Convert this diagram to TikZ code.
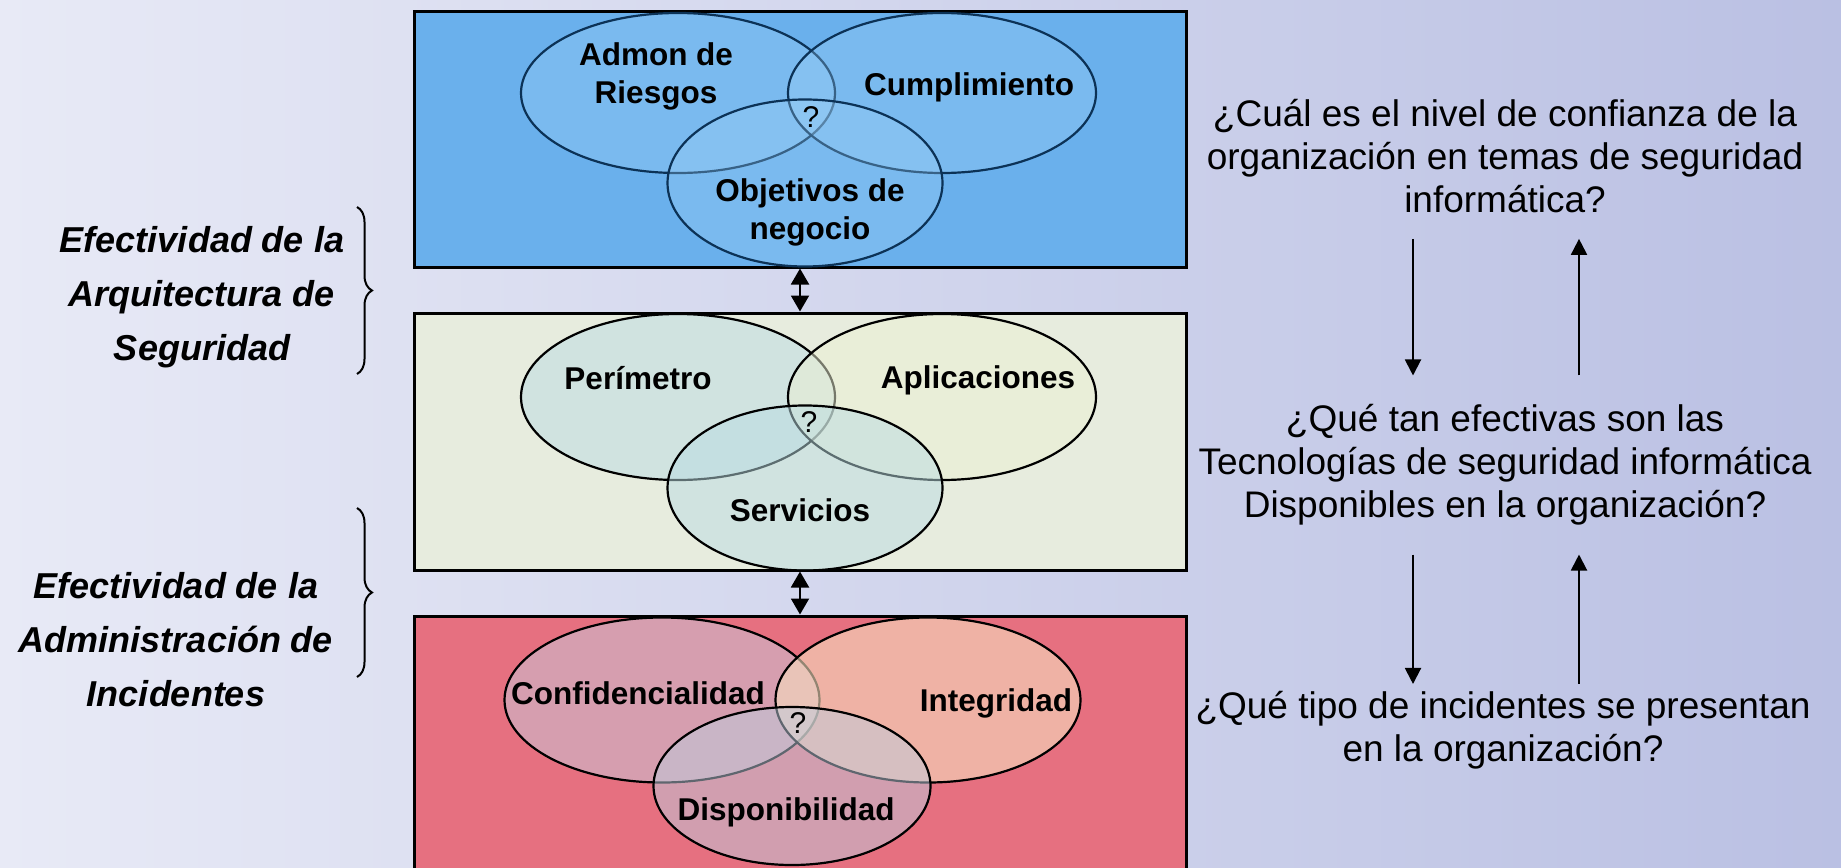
\documentclass[tikz,border=0pt]{standalone}
\usepackage{fontspec}
\setmainfont{Liberation Sans}
\usetikzlibrary{arrows.meta,shapes.geometric,decorations.pathreplacing}

\definecolor{bgleft}{RGB}{232,234,246}
\definecolor{bgright}{RGB}{186,192,227}
\definecolor{topblue}{RGB}{106,176,236}
\definecolor{topell}{RGB}{160,210,246}
\definecolor{topline}{RGB}{12,50,86}
\definecolor{midgreen}{RGB}{231,236,222}
\definecolor{midell}{RGB}{186,220,226}
\definecolor{aplicell}{RGB}{236,240,212}
\definecolor{botred}{RGB}{230,112,128}
\definecolor{confell}{RGB}{200,205,222}
\definecolor{integell}{RGB}{246,222,190}
\definecolor{dispell}{RGB}{190,205,222}

\begin{document}
\begin{tikzpicture}[x=0.5pt,y=-0.5pt,
    box/.style={draw=black, line width=1.5pt, minimum width=386pt, inner sep=0pt},
    venn/.style={ellipse, draw=black, line width=1.1pt, inner sep=0pt},
    lbl/.style={font=\fontsize{15.75}{19}\selectfont\bfseries, align=center},
    qmark/.style={font=\fontsize{15}{18}\selectfont},
    quest/.style={font=\fontsize{18.5}{21.5}\selectfont, align=center},
    side/.style={font=\fontsize{18}{27}\selectfont\bfseries\itshape, align=center},
    link/.style={line width=1pt, {Triangle[width=9pt,length=8pt]}-{Triangle[width=9pt,length=8pt]}},
    flow/.style={line width=1pt, -{Triangle[width=8pt,length=8pt]}},
    curly/.style={decorate, decoration={brace, amplitude=7.5pt}, line width=1pt}]
    \clip (0,0) rectangle (1841,867);
    \shade[left color=bgleft, right color=bgright] (0,0) rectangle (1841,867);

    % three layers
    \node[box, fill=topblue, minimum height=128pt] (top) at (800,139) {};
    \node[box, fill=midgreen, minimum height=128.5pt] (mid) at (800,441.5) {};
    \node[box, fill=botred, minimum height=132pt] (bot) at (800,748) {};

    % business layer
    \node[venn, draw=topline, fill=topell, fill opacity=0.3, minimum width=157pt, minimum height=80pt] (riesgos) at (678,93) {};
    \node[venn, draw=topline, fill=topell, fill opacity=0.3, minimum width=154pt, minimum height=80pt] (cumpl) at (942,93) {};
    \node[venn, draw=topline, fill=topell, fill opacity=0.3, minimum width=137.5pt, minimum height=83.5pt] (negocio) at (805,183) {};
    \node[lbl] (riesgostxt) at (656,76) {Admon de\\Riesgos};
    \node[lbl] (cumpltxt) at (969,87) {Cumplimiento};
    \node[lbl] (negociotxt) at (810,212) {Objetivos de\\negocio};
    \node[qmark] (q-top) at (811,117) {?};

    % technology layer
    \node[venn, fill=midell, fill opacity=0.5, minimum width=157pt, minimum height=83pt] (perim) at (678,397) {};
    \node[venn, fill=aplicell, fill opacity=0.5, minimum width=154pt, minimum height=83pt] (aplic) at (942,397) {};
    \node[venn, fill=midell, fill opacity=0.5, minimum width=137.5pt, minimum height=82.5pt] (serv) at (805,488) {};
    \node[lbl] (perimtxt) at (638,378) {Perímetro};
    \node[lbl] (aplictxt) at (978,380) {Aplicaciones};
    \node[lbl] (servtxt) at (800,510) {Servicios};
    \node[qmark] (q-mid) at (809,422) {?};

    % incident layer
    \node[venn, fill=confell, fill opacity=0.5, minimum width=157.5pt, minimum height=82.5pt] (conf) at (662,700) {};
    \node[venn, fill=integell, fill opacity=0.6, minimum width=152.5pt, minimum height=82.5pt] (integ) at (928,700) {};
    \node[venn, fill=dispell, fill opacity=0.5, minimum width=138.5pt, minimum height=79pt] (disp) at (792,786) {};
    \node[lbl] (conftxt) at (638,693) {Confidencialidad};
    \node[lbl] (integtxt) at (996,703) {Integridad};
    \node[lbl] (disptxt) at (786,812) {Disponibilidad};
    \node[qmark] (q-bot) at (798,723) {?};

    \draw[link] (top.south) -- (mid.north);
    \draw[link] (mid.south) -- (bot.north);

    % left side
    \node[side] (arq) at (202,297) {Efectividad de la\\Arquitectura de\\Seguridad};
    \node[side] (inc) at (176,640) {Efectividad de la\\Administración de\\Incidentes};
    \draw[curly] (357,207) -- (357,374);
    \draw[curly] (357,508) -- (357,677);

    % right side
    \node[quest] (conf-q) at (1505,156) {¿Cuál es el nivel de confianza de la\\organización en temas de seguridad\\informática?};
    \node[quest] (tec-q) at (1505,465) {¿Qué tan efectivas son las\\Tecnologías de seguridad informática\\Disponibles en la organización?};
    \node[quest] (inc-q) at (1503,730) {¿Qué tipo de incidentes se presentan\\en la organización?};

    \draw[flow] ([xshift=-46pt,yshift=-9.5pt]conf-q.south) -- ([xshift=-46pt,yshift=11pt]tec-q.north);
    \draw[flow] ([xshift=37pt,yshift=11pt]tec-q.north) -- ([xshift=37pt,yshift=-9.5pt]conf-q.south);
    \draw[flow] ([xshift=-46pt,yshift=-11pt]tec-q.south) -- ([xshift=-45pt,yshift=0pt]inc-q.north);
    \draw[flow] ([xshift=38pt,yshift=0pt]inc-q.north) -- ([xshift=37pt,yshift=-11pt]tec-q.south);
\end{tikzpicture}
\end{document}
